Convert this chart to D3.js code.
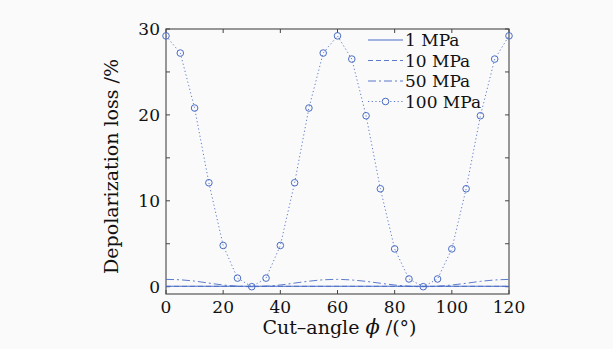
<!DOCTYPE html>
<html>
<head>
<meta charset="utf-8">
<script src="https://cdn.jsdelivr.net/npm/d3@7"></script>
<style>
  body { margin: 0; background: #fafafa; }
  svg text { font-family: "DejaVu Serif", "Liberation Serif", serif; fill: #111; }
</style>
</head>
<body>
<div id="chart"></div>
<script>
// cut angles (deg) sampled every 5
const angles = d3.range(0, 121, 5)

// depolarization loss in %
const loss1 = angles.map(() => 0.05)
const loss10 = angles.map(() => 0.04)
const loss50 = [0.85, 0.8, 0.65, 0.42, 0.2, 0.06, 0.0, 0.06, 0.2, 0.42, 0.64, 0.8, 0.85,
                0.78, 0.62, 0.4, 0.2, 0.05, 0.0, 0.05, 0.2, 0.4, 0.62, 0.78, 0.85]
const loss100 = [29.2, 27.2, 20.8, 12.1, 4.8, 1.0, 0.0, 1.0, 4.8, 12.1, 20.8, 27.2, 29.2,
                 26.5, 19.9, 11.4, 4.4, 0.9, 0.0, 0.9, 4.4, 11.4, 19.9, 26.5, 29.2]

const seriesNames = ['1 MPa', '10 MPa', '50 MPa', '100 MPa']
const xTicks = [0, 20, 40, 60, 80, 100, 120]
const yTicks = [0, 10, 20, 30]
const yMinor = [0, 5, 10, 15, 20, 25, 30]

const width = 613, height = 349
const margin = {top: 29, right: 104, bottom: 55, left: 166}
const blue = '#4a6cc4'

const svg = d3.select('#chart').append('svg')
    .attr('width', width)
    .attr('height', height)

const x = d3.scaleLinear().domain([0, 120]).range([margin.left, width - margin.right])
const y = d3.scaleLinear().domain([-0.85, 30]).range([height - margin.bottom, margin.top])

// frame
svg.append('rect')
    .attr('x', x(0)).attr('y', y(30))
    .attr('width', x(120) - x(0)).attr('height', y(-0.85) - y(30))
    .attr('fill', 'none').attr('stroke', '#555').attr('stroke-width', 1.2)

// ticks inward on all four sides
const tl = 4
svg.append('g').selectAll('line.xb').data(xTicks).enter().append('line')
    .attr('x1', d => x(d)).attr('x2', d => x(d))
    .attr('y1', y(-0.85)).attr('y2', y(-0.85) - tl)
    .attr('stroke', '#444')
svg.append('g').selectAll('line.xt').data(xTicks).enter().append('line')
    .attr('x1', d => x(d)).attr('x2', d => x(d))
    .attr('y1', y(30)).attr('y2', y(30) + tl)
    .attr('stroke', '#444')
svg.append('g').selectAll('line.yl').data(yMinor).enter().append('line')
    .attr('x1', x(0)).attr('x2', x(0) + tl)
    .attr('y1', d => y(d)).attr('y2', d => y(d))
    .attr('stroke', '#444')
svg.append('g').selectAll('line.yr').data(yMinor).enter().append('line')
    .attr('x1', x(120)).attr('x2', x(120) - tl)
    .attr('y1', d => y(d)).attr('y2', d => y(d))
    .attr('stroke', '#444')

// tick labels
svg.append('g').selectAll('text').data(xTicks).enter().append('text')
    .attr('x', d => x(d)).attr('y', y(-0.85) + 19)
    .attr('text-anchor', 'middle')
    .style('font-size', '17px')
    .text(d => d)
svg.append('g').selectAll('text').data(yTicks).enter().append('text')
    .attr('x', x(0) - 6).attr('y', d => y(d) + 6)
    .attr('text-anchor', 'end')
    .style('font-size', '17px')
    .text(d => d)

// axis titles
svg.append('text')
    .attr('x', x(60) + 2).attr('y', 334)
    .attr('text-anchor', 'middle')
    .style('font-size', '19px')
    .html('Cut\u2013angle <tspan font-style="italic" font-size="21px">\u03d5</tspan> /(\u00b0)')
svg.append('text')
    .attr('transform', `translate(118,${(y(30) + y(-0.85)) / 2 + 5}) rotate(-90)`)
    .attr('text-anchor', 'middle')
    .style('font-size', '19px')
    .text('Depolarization loss /%')

// lines
const line = d3.line().x((d, i) => x(angles[i])).y(d => y(d))
const styles = [
    {data: loss1, dash: null},
    {data: loss10, dash: '5,3'},
    {data: loss50, dash: '8,3,2,3'},
    {data: loss100, dash: '1.2,2.5'}
]
const smooth = d3.line().x((d, i) => x(angles[i])).y(d => y(d)).curve(d3.curveMonotoneX)
styles.forEach((s, k) => {
    svg.append('path')
        .datum(s.data)
        .attr('d', k == 2 ? smooth : line)
        .attr('fill', 'none')
        .attr('stroke', blue)
        .attr('stroke-width', k == 0 ? 1.2 : 0.9)
        .attr('stroke-dasharray', s.dash)
})

// markers for 100 MPa
svg.append('g').selectAll('circle').data(loss100).enter().append('circle')
    .attr('cx', (d, i) => x(angles[i]))
    .attr('cy', d => y(d))
    .attr('r', 3.3)
    .attr('fill', 'none')
    .attr('stroke', blue)
    .attr('stroke-width', 1)

// legend
const lg = svg.append('g').attr('transform', 'translate(368,40)')
seriesNames.forEach((name, i) => {
    const row = lg.append('g').attr('transform', `translate(0,${i * 20.5})`)
    row.append('line')
        .attr('x1', 0).attr('x2', 35)
        .attr('stroke', blue)
        .attr('stroke-width', i == 0 ? 1.2 : 0.9)
        .attr('stroke-dasharray', styles[i].dash)
    if (i == 3) {
        row.append('circle').attr('cx', 17.5).attr('r', 3.3)
            .attr('fill', '#fafafa').attr('stroke', blue)
    }
    row.append('text')
        .attr('x', 37).attr('y', 6)
        .style('font-size', '17px')
        .text(name)
})
</script>
</body>
</html>
